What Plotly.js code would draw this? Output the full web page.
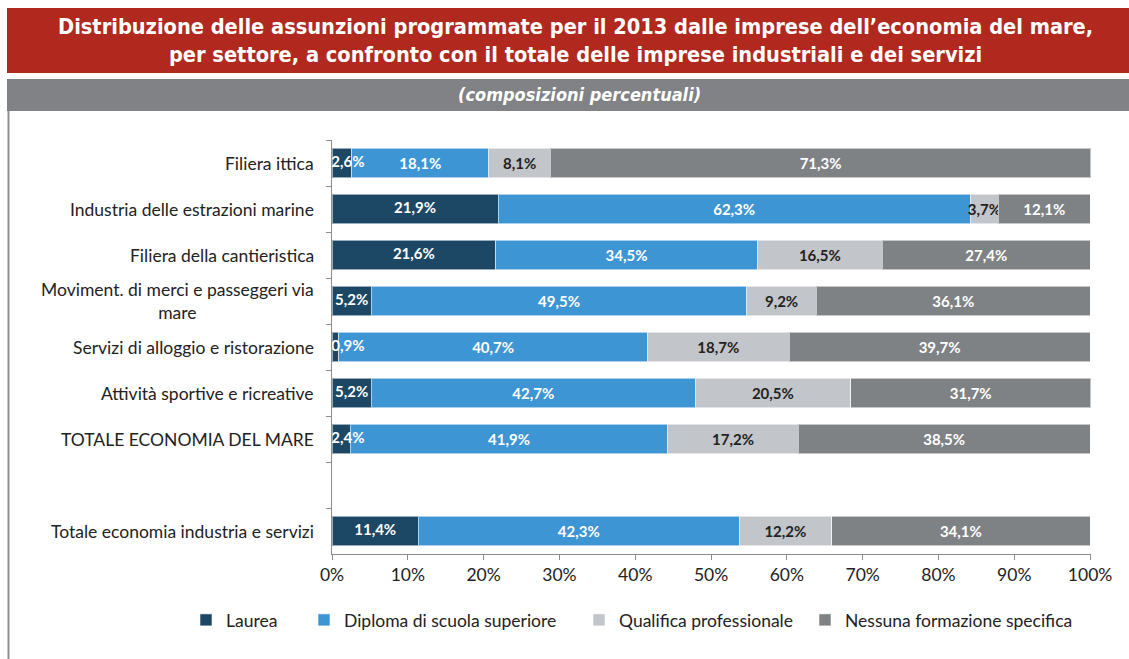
<!DOCTYPE html>
<html>
<head>
<meta charset="utf-8">
<script src="https://cdn.plot.ly/plotly-3.0.1.min.js"></script>
<style>
html,body{margin:0;padding:0;background:#fff;}
#chart{width:1129px;height:659px;}
</style>
</head>
<body>
<div id="chart"></div>
<script>
// ---- data ----
const categories = [
  "Filiera ittica",
  "Industria delle estrazioni marine",
  "Filiera della cantieristica",
  "Moviment. di merci e passeggeri via<br>mare",
  "Servizi di alloggio e ristorazione",
  "Attività sportive e ricreative",
  "TOTALE ECONOMIA DEL MARE",
  " ",
  "Totale economia industria e servizi"
];
const seriesNames = ["Laurea", "Diploma di scuola superiore", "Qualifica professionale", "Nessuna formazione specifica"];
const laurea    = [2.6, 21.9, 21.6, 5.2, 0.9, 5.2, 2.4, null, 11.4];
const diploma   = [18.1, 62.3, 34.5, 49.5, 40.7, 42.7, 41.9, null, 42.3];
const qualifica = [8.1, 3.7, 16.5, 9.2, 18.7, 20.5, 17.2, null, 12.2];
const nessuna   = [71.3, 12.1, 27.4, 36.1, 39.7, 31.7, 38.5, null, 34.1];
const xTickVals = [0,10,20,30,40,50,60,70,80,90,100];
const xTickText = ["0%","10%","20%","30%","40%","50%","60%","70%","80%","90%","100%"];

const titleText = "Distribuzione delle assunzioni programmate per il 2013 dalle imprese dell’economia del mare,<br>per settore, a confronto con il totale delle imprese industriali e dei servizi";
const subtitleText = "(composizioni percentuali)";

// ---- layout helpers (pixel -> paper) ----
const W = 1129, H = 659;
const M = {l: 332, r: 38, t: 140, b: 105};
const PW = W - M.l - M.r, PH = H - M.t - M.b;
const px = v => (v - M.l) / PW;
const py = v => (H - M.b - v) / PH;

const colors = ["#1c4866", "#3e95d3", "#c2c5c9", "#7f8285"];
const textColors = ["#ffffff", "#ffffff", "#222222", "#ffffff"];
const vals = [laurea, diploma, qualifica, nessuna];
const legendIds = ["legend", "legend2", "legend3", "legend4"];
const fontMain = "Lato, 'Open Sans', sans-serif";
const condensed = "'Liberation Sans Narrow', 'DejaVu Sans Condensed', sans-serif";
const fs = 17.5;

const traces = vals.map((v, i) => ({
  type: "bar",
  orientation: "h",
  name: seriesNames[i],
  x: v,
  y: categories,
  marker: {color: colors[i], line: {color: "rgba(255,255,255,0.55)", width: 1}},
  texttemplate: "%{x:.1f}%",
  textposition: i === 0 ? "none" : "inside",
  insidetextanchor: "middle",
  textangle: 0,
  constraintext: "none",
  cliponaxis: false,
  insidetextfont: {family: "Lato", size: 15, color: textColors[i], weight: "bold"},
  legend: legendIds[i],
  hoverinfo: "skip"
}));

// Laurea labels drawn on top, kept inside the plot area for narrow segments
const minHalf = 2.1; // half label width in % units
traces.push({
  type: "scatter",
  mode: "text",
  x: laurea.map(v => v === null ? null : Math.max(v / 2, minHalf)),
  y: categories,
  customdata: laurea,
  texttemplate: "%{customdata:.1f}%",
  textposition: "middle center",
  textfont: {family: "Lato", size: 15, color: "#ffffff", weight: "bold"},
  cliponaxis: false,
  showlegend: false,
  hoverinfo: "skip"
});

const annotations = categories.map(c => ({
  xref: "paper", yref: "y",
  x: px(316), y: c,
  xanchor: "right", yanchor: "middle",
  text: c, showarrow: false, align: "center",
  font: {family: fontMain, size: fs, color: "#222"}
}));
annotations.push({
  xref: "paper", yref: "paper",
  x: px(575), y: py(40), xanchor: "center", yanchor: "middle",
  text: titleText, showarrow: false, align: "center",
  font: {family: condensed, size: 21.6, color: "#ffffff", weight: "bold"}
});
annotations.push({
  xref: "paper", yref: "paper",
  x: px(579), y: py(95), xanchor: "center", yanchor: "middle",
  text: subtitleText, showarrow: false, align: "center",
  font: {family: condensed, size: 18, color: "#ffffff", weight: "bold", style: "italic"}
});

const shapes = [
  {type: "rect", xref: "paper", yref: "paper", x0: px(7), x1: px(1129), y0: py(8), y1: py(73),
   fillcolor: "#b0281e", line: {width: 0}, layer: "below"},
  {type: "rect", xref: "paper", yref: "paper", x0: px(7), x1: px(1129), y0: py(79), y1: py(111),
   fillcolor: "#808285", line: {width: 0}, layer: "below"},
  {type: "line", xref: "paper", yref: "paper", x0: px(8.5), x1: px(8.5), y0: py(111), y1: py(659),
   line: {color: "#8f9093", width: 2}, layer: "below"}
];

const legendTextX = [226, 344, 619, 845];
const legendCommon = {
  orientation: "h", yanchor: "middle", xanchor: "left",
  font: {family: fontMain, size: fs, color: "#222"},
  bgcolor: "rgba(0,0,0,0)", borderwidth: 0, itemwidth: 30
};
const layout = {
  width: W, height: H,
  margin: M,
  paper_bgcolor: "#ffffff",
  plot_bgcolor: "#ffffff",
  barmode: "stack",
  bargap: 0.35,
  separators: ",.",
  font: {family: fontMain, color: "#222"},
  xaxis: {
    range: [0, 100.12], tickmode: "array", tickvals: xTickVals, ticktext: xTickText,
    showgrid: false, zeroline: false,
    showline: true, linecolor: "#8c8c8c", linewidth: 1,
    ticks: "outside", ticklen: 5, tickcolor: "#8c8c8c",
    tickfont: {family: fontMain, size: fs, color: "#222"},
    fixedrange: true
  },
  yaxis: {
    type: "category",
    categoryorder: "array", categoryarray: categories,
    autorange: "reversed",
    showticklabels: false,
    showgrid: false, zeroline: false,
    showline: true, linecolor: "#8c8c8c", linewidth: 1,
    ticks: "outside", ticklen: 5, tickcolor: "#8c8c8c", tickson: "boundaries",
    fixedrange: true
  },
  annotations: annotations,
  shapes: shapes,
  showlegend: true
};
legendIds.forEach((id, i) => {
  layout[id] = Object.assign({}, legendCommon, {x: px(legendTextX[i] - 40), y: py(620)});
});

Plotly.newPlot("chart", traces, layout, {displayModeBar: false, staticPlot: true});
</script>
</body>
</html>
